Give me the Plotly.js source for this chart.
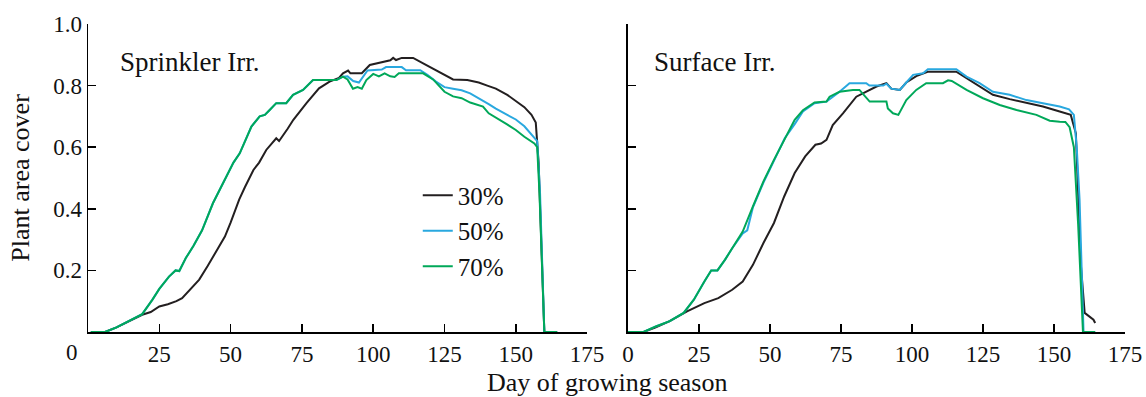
<!DOCTYPE html>
<html>
<head>
<meta charset="utf-8">
<script src="https://cdn.plot.ly/plotly-3.0.1.min.js"></script>
<style>html,body{margin:0;padding:0;background:#fff;}#chart{width:1146px;height:397px;}</style>
</head>
<body>
<div id="chart"></div>
<script>
// ---------- Data ----------
const seriesNames = ["30%", "50%", "70%"];
const xTicks = [0, 25, 50, 75, 100, 125, 150, 175];
const yTicks = [0.2, 0.4, 0.6, 0.8, 1.0];
const yTickLabels = ["0.2", "0.4", "0.6", "0.8", "1.0"];
const panelTitles = ["Sprinkler Irr.", "Surface Irr."];

// Sprinkler irrigation panel
const sprDays30 = [1, 6, 10, 14, 19, 22, 25, 28, 31, 33, 36, 39, 42, 46, 48, 50, 53, 55, 58, 60, 62.5, 66, 67, 70, 72, 76.6, 81, 84.7, 88, 89.4, 91.2, 92, 96, 98.8, 103, 106, 107, 108, 110, 114, 118, 122, 125, 128, 133, 137, 140, 143, 147, 150, 153, 155.5, 157, 158, 159, 160, 164.5];
const sprVals30 = [0, 0, 0.015, 0.034, 0.056, 0.065, 0.083, 0.09, 0.1, 0.11, 0.14, 0.17, 0.215, 0.28, 0.31, 0.355, 0.43, 0.47, 0.526, 0.55, 0.591, 0.629, 0.62, 0.66, 0.689, 0.743, 0.791, 0.813, 0.825, 0.84, 0.849, 0.84, 0.84, 0.867, 0.875, 0.882, 0.89, 0.883, 0.89, 0.89, 0.87, 0.85, 0.835, 0.82, 0.818, 0.81, 0.80, 0.79, 0.77, 0.75, 0.73, 0.705, 0.68, 0.55, 0.25, 0, 0];

const sprDays50 = [1, 6, 10, 14, 19, 22.6, 25, 28.4, 30.7, 32, 34.3, 37, 40, 43.8, 46, 48.5, 51, 53.2, 55, 57.3, 60.2, 62, 63.7, 66, 69.5, 71.9, 75.4, 78.9, 87.1, 89.4, 91, 93, 95, 98, 103, 104.5, 110, 111.5, 116.5, 119, 122, 125, 128, 131, 134, 137, 140.5, 143, 146.8, 150, 153, 156, 157.5, 158.5, 160, 164.5];
const sprVals50 = [0, 0, 0.015, 0.034, 0.058, 0.105, 0.14, 0.18, 0.2, 0.198, 0.24, 0.28, 0.33, 0.418, 0.46, 0.505, 0.55, 0.58, 0.62, 0.667, 0.70, 0.705, 0.721, 0.743, 0.743, 0.77, 0.786, 0.818, 0.818, 0.829, 0.83, 0.815, 0.81, 0.849, 0.852, 0.86, 0.86, 0.85, 0.85, 0.835, 0.813, 0.795, 0.79, 0.785, 0.775, 0.76, 0.74, 0.725, 0.705, 0.69, 0.668, 0.635, 0.62, 0.45, 0, 0];

const sprDays70 = [1, 6, 10, 14, 19, 22.6, 25, 28.4, 30.7, 32, 34.3, 37, 40, 43.8, 46, 48.5, 51, 53.2, 55, 57.3, 60.2, 62, 63.7, 66, 69.5, 71.9, 75.4, 78.9, 87.1, 89.4, 91, 92.9, 94.5, 96, 97.6, 100, 102, 104, 106, 107.5, 109, 117.5, 121, 125, 128, 131, 134, 138.5, 140.5, 143, 146.8, 150, 153, 156.5, 157.5, 158.3, 160, 164.5];
const sprVals70 = [0, 0, 0.015, 0.034, 0.058, 0.105, 0.14, 0.18, 0.2, 0.198, 0.24, 0.28, 0.33, 0.418, 0.46, 0.505, 0.55, 0.58, 0.62, 0.667, 0.70, 0.705, 0.721, 0.743, 0.743, 0.77, 0.786, 0.818, 0.818, 0.829, 0.82, 0.79, 0.795, 0.79, 0.818, 0.838, 0.83, 0.84, 0.83, 0.828, 0.84, 0.84, 0.82, 0.78, 0.765, 0.759, 0.745, 0.732, 0.71, 0.695, 0.675, 0.656, 0.634, 0.612, 0.60, 0.45, 0, 0];

// Surface irrigation panel
const surDays30 = [0, 5.5, 9.8, 14.7, 20.8, 26.9, 31.8, 36.7, 40.4, 44, 47.7, 51.4, 55, 58.7, 62.4, 66, 68, 69.9, 72.1, 75.7, 80.4, 83.9, 87.5, 91, 92.7, 95.7, 98, 101.5, 103.9, 105.5, 115.6, 119.2, 123.8, 128.5, 134.4, 140.3, 146.1, 152, 155.9, 157.7, 159.5, 160.8, 163.9, 164.5];
const surVals30 = [0, 0, 0.015, 0.035, 0.067, 0.094, 0.11, 0.137, 0.164, 0.218, 0.289, 0.354, 0.44, 0.516, 0.57, 0.608, 0.612, 0.624, 0.672, 0.71, 0.764, 0.78, 0.797, 0.808, 0.79, 0.786, 0.81, 0.831, 0.84, 0.845, 0.845, 0.824, 0.80, 0.77, 0.756, 0.745, 0.732, 0.716, 0.705, 0.645, 0.213, 0.062, 0.04, 0.029];

const surDays50 = [0, 5.5, 9.8, 14.7, 19.6, 23.2, 26.9, 29.3, 31.5, 34.2, 36.7, 40.4, 42, 44, 47.7, 51.4, 55.2, 58.7, 61.6, 65.7, 69.9, 74.5, 78, 83.9, 85, 89.9, 91, 92.7, 95.7, 98, 100.4, 103.9, 105.6, 115.6, 119.2, 123.8, 128.5, 134.4, 140.3, 146.1, 152, 155.3, 157, 158, 159, 160.4, 164.5];
const surVals50 = [0, 0, 0.018, 0.035, 0.062, 0.105, 0.164, 0.2, 0.2, 0.235, 0.272, 0.32, 0.33, 0.405, 0.485, 0.555, 0.629, 0.675, 0.716, 0.743, 0.748, 0.78, 0.808, 0.808, 0.80, 0.80, 0.806, 0.79, 0.786, 0.81, 0.835, 0.84, 0.853, 0.853, 0.829, 0.808, 0.78, 0.77, 0.753, 0.743, 0.732, 0.723, 0.705, 0.6, 0.43, 0, 0];

const surDays70 = [0, 5.5, 9.8, 14.7, 19.6, 23.2, 26.9, 29.3, 31.5, 34.2, 36.7, 40.4, 44, 47.7, 51.4, 55.2, 58.7, 61.6, 65.7, 69.9, 71, 74.5, 79.2, 81.5, 85.1, 91, 91.5, 93.3, 95.2, 98, 101.5, 105, 110.9, 112.7, 114, 119.2, 125, 130.9, 136.8, 143.8, 148.5, 152, 154, 155.5, 157, 158.5, 160.2, 164.5];
const surVals70 = [0, 0, 0.018, 0.035, 0.062, 0.105, 0.164, 0.2, 0.2, 0.235, 0.272, 0.326, 0.408, 0.489, 0.559, 0.629, 0.689, 0.72, 0.745, 0.748, 0.764, 0.78, 0.786, 0.786, 0.748, 0.748, 0.726, 0.71, 0.705, 0.753, 0.786, 0.808, 0.808, 0.817, 0.815, 0.786, 0.759, 0.737, 0.721, 0.705, 0.686, 0.683, 0.682, 0.665, 0.6, 0.35, 0, 0];

const colors = ["#231f20", "#29a8df", "#00a859"];

// ---------- Traces ----------
const FONT = "Liberation Serif";
function tr(x, y, i, xa, ya, show) {
  return {
    x: x, y: y, type: "scatter", mode: "lines",
    name: seriesNames[i], legendgroup: "g" + i, showlegend: show,
    line: {color: colors[i], width: 2},
    xaxis: xa, yaxis: ya, hoverinfo: "skip"
  };
}
const data = [
  tr(sprDays30, sprVals30, 0, "x", "y", true),
  tr(sprDays50, sprVals50, 1, "x", "y", true),
  tr(sprDays70, sprVals70, 2, "x", "y", true),
  tr(surDays30, surVals30, 0, "x2", "y2", false),
  tr(surDays50, surVals50, 1, "x2", "y2", false),
  tr(surDays70, surVals70, 2, "x2", "y2", false)
];

const xBase = {
  range: [0, 175], showgrid: false, zeroline: false,
  showline: true, linecolor: "#000", linewidth: 1.5,
  ticks: "inside", ticklen: 8, tickwidth: 1.5, tickcolor: "#000",
  tickfont: {family: FONT, size: 23, color: "#111"},
  ticklabelstandoff: 1
};
const yBase = {
  range: [0, 1], showgrid: false, zeroline: false,
  showline: true, linecolor: "#000", linewidth: 1.5,
  ticks: "inside", ticklen: 8, tickwidth: 1.5, tickcolor: "#000",
  tickvals: yTicks, ticktext: yTickLabels,
  tickfont: {family: FONT, size: 23, color: "#111"}
};

const layout = {
  width: 1146, height: 397,
  margin: {l: 88, r: 21, t: 24, b: 65, pad: 0},
  paper_bgcolor: "#fff", plot_bgcolor: "#fff",
  font: {family: FONT, color: "#111"},
  showlegend: true,
  legend: {
    x: 0.318, y: 0.518, xanchor: "left", yanchor: "top",
    xref: "paper", yref: "paper",
    bgcolor: "rgba(0,0,0,0)", borderwidth: 0,
    font: {family: FONT, size: 25, color: "#111"},
    tracegroupgap: 4, traceorder: "normal"
  },
  xaxis: Object.assign({}, xBase, {domain: [0, 0.4813], anchor: "y",
    tickvals: xTicks.slice(1), ticktext: xTicks.slice(1).map(String)}),
  xaxis2: Object.assign({}, xBase, {domain: [0.5207, 1], anchor: "y2",
    tickvals: xTicks, ticktext: xTicks.map(String)}),
  yaxis: Object.assign({}, yBase, {anchor: "x"}),
  yaxis2: Object.assign({}, yBase, {anchor: "x2", showticklabels: false}),
  annotations: [
    {text: panelTitles[0], xref: "x", yref: "y", x: 10.5, y: 0.878,
     xanchor: "left", yanchor: "middle", showarrow: false,
     font: {family: FONT, size: 27, color: "#111"}},
    {text: panelTitles[1], xref: "x2", yref: "y2", x: 8.3, y: 0.878,
     xanchor: "left", yanchor: "middle", showarrow: false,
     font: {family: FONT, size: 27, color: "#111"}},
    {text: String(xTicks[0]), xref: "paper", yref: "paper", x: -0.0157, y: -0.067,
     xanchor: "center", yanchor: "middle", showarrow: false,
     font: {family: FONT, size: 23, color: "#111"}},
    {text: "Day of growing season", xref: "paper", yref: "paper", x: 0.5, y: -0.163,
     xanchor: "center", yanchor: "middle", showarrow: false,
     font: {family: FONT, size: 26, color: "#111"}},
    {text: "Plant area cover", xref: "paper", yref: "paper", x: -0.0659, y: 0.5,
     xanchor: "center", yanchor: "middle", textangle: -90, showarrow: false,
     font: {family: FONT, size: 26, color: "#111"}}
  ]
};

Plotly.newPlot("chart", data, layout, {displayModeBar: false, staticPlot: true});
</script>
</body>
</html>
